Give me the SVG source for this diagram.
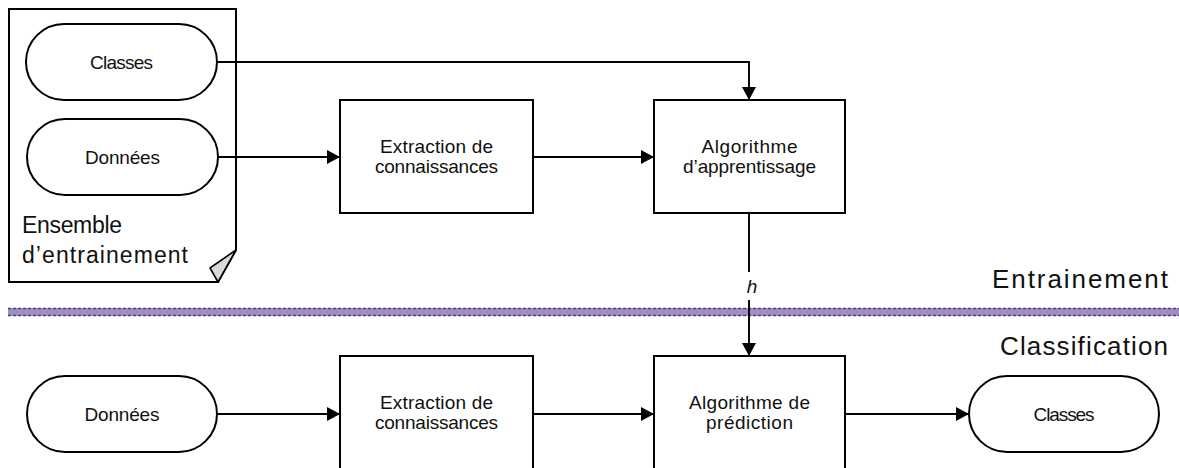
<svg xmlns="http://www.w3.org/2000/svg" width="1179" height="468" viewBox="0 0 1179 468">
  <defs>
    <marker id="arrow" viewBox="0 0 13 14" refX="13" refY="7" markerWidth="13" markerHeight="14" markerUnits="userSpaceOnUse" orient="auto">
      <path d="M0,0 L13,7 L0,14 Z" fill="#000"/>
    </marker>
    <style>
      .shape { fill: #fff; stroke: #000; stroke-width: 2; }
      .link { fill: none; stroke: #000; stroke-width: 1.9; }
      .lbl { font-family: "Liberation Sans", Arial, sans-serif; font-size: 19px; fill: #111; text-anchor: middle; }
      .big { font-family: "Liberation Sans", Arial, sans-serif; fill: #111; }
      .sep-dots { stroke: #4e3d78; stroke-width: 1.6; stroke-dasharray: 3 2; }
    </style>
  </defs>

  <!-- phase separator -->
  <g id="separator">
    <rect x="8" y="308" width="1171" height="8" fill="#a090c2"/>
    <line class="sep-dots" x1="8" y1="308.5" x2="1179" y2="308.5"/>
    <line class="sep-dots" x1="8" y1="315.5" x2="1179" y2="315.5"/>
  </g>
  <text class="big" x="992" y="288" font-size="26" textLength="176" lengthAdjust="spacing">Entrainement</text>
  <text class="big" x="1000" y="355" font-size="26" textLength="168" lengthAdjust="spacing">Classification</text>

  <!-- training set document -->
  <g id="training-set">
    <path class="shape" d="M9,9 H236 V250 L218,282 H9 Z"/>
    <path d="M236,250 L210,268 L218,282 Z" fill="#d9d9d9" stroke="#000" stroke-width="1.6" stroke-linejoin="round"/>
    <text class="big" x="22" y="233" font-size="23" textLength="100" lengthAdjust="spacing">Ensemble</text>
    <text class="big" x="22" y="263" font-size="23" textLength="166" lengthAdjust="spacing">d’entrainement</text>
  </g>

  <g id="train-classes">
    <rect class="shape" x="26" y="24" width="191" height="76" rx="38" ry="38"/>
    <text class="lbl" x="121.5" y="69" textLength="63" lengthAdjust="spacing">Classes</text>
  </g>
  <g id="train-data">
    <rect class="shape" x="27" y="119" width="191" height="76" rx="38" ry="38"/>
    <text class="lbl" x="122.5" y="164" textLength="75" lengthAdjust="spacing">Données</text>
  </g>

  <g id="train-extraction">
    <rect class="shape" x="340" y="100" width="193" height="113"/>
    <text class="lbl" x="436.5" y="153" textLength="113" lengthAdjust="spacing">Extraction de</text>
    <text class="lbl" x="436.5" y="173" textLength="123" lengthAdjust="spacing">connaissances</text>
  </g>
  <g id="learning">
    <rect class="shape" x="654" y="100" width="191" height="113"/>
    <text class="lbl" x="749.5" y="153" textLength="96" lengthAdjust="spacing">Algorithme</text>
    <text class="lbl" x="749.5" y="173" textLength="133" lengthAdjust="spacing">d’apprentissage</text>
  </g>

  <!-- classification row -->
  <g id="test-data">
    <rect class="shape" x="27" y="376" width="190" height="76" rx="38" ry="38"/>
    <text class="lbl" x="122" y="421" textLength="75" lengthAdjust="spacing">Données</text>
  </g>
  <g id="test-extraction">
    <rect class="shape" x="340" y="356" width="193" height="130"/>
    <text class="lbl" x="436.5" y="409" textLength="113" lengthAdjust="spacing">Extraction de</text>
    <text class="lbl" x="436.5" y="429" textLength="123" lengthAdjust="spacing">connaissances</text>
  </g>
  <g id="prediction">
    <rect class="shape" x="654" y="356" width="191" height="130"/>
    <text class="lbl" x="749.5" y="409" textLength="121" lengthAdjust="spacing">Algorithme de</text>
    <text class="lbl" x="749.5" y="429" textLength="87" lengthAdjust="spacing">prédiction</text>
  </g>
  <g id="test-classes">
    <rect class="shape" x="969" y="376" width="190" height="76" rx="38" ry="38"/>
    <text class="lbl" x="1064" y="421" textLength="61" lengthAdjust="spacing">Classes</text>
  </g>

  <!-- connectors -->
  <g id="connectors">
    <path class="link" d="M217,62 H749 V100" marker-end="url(#arrow)"/>
    <path class="link" d="M218,157 H340" marker-end="url(#arrow)"/>
    <path class="link" d="M533,157 H654" marker-end="url(#arrow)"/>
    <path class="link" d="M749,213 V272"/>
    <path class="link" d="M749,300 V356" marker-end="url(#arrow)"/>
    <text class="lbl" x="752" y="293" font-style="italic">h</text>
    <path class="link" d="M217,414 H340" marker-end="url(#arrow)"/>
    <path class="link" d="M533,414 H654" marker-end="url(#arrow)"/>
    <path class="link" d="M845,414 H969" marker-end="url(#arrow)"/>
  </g>
</svg>
